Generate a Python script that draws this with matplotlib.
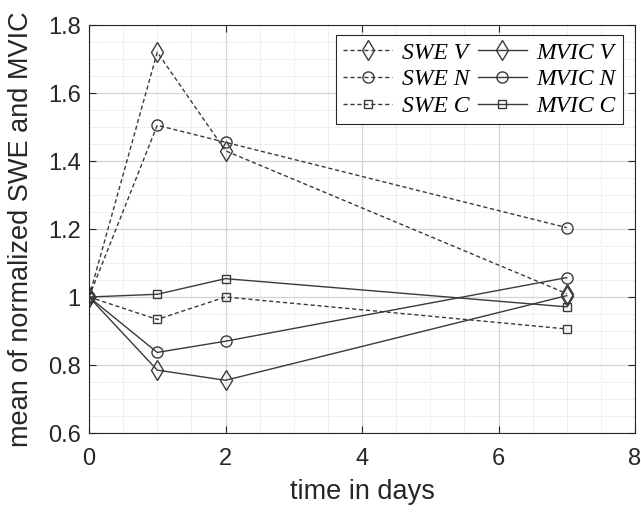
import matplotlib
matplotlib.use("Agg")
import matplotlib.pyplot as plt
from matplotlib.ticker import MultipleLocator, FuncFormatter

days = [0, 1, 2, 7]
swe_v = [1.0, 1.72, 1.43, 1.01]
swe_n = [1.0, 1.505, 1.455, 1.204]
swe_c = [1.0, 0.934, 1.0, 0.906]
mvic_v = [1.0, 0.785, 0.755, 1.004]
mvic_n = [1.0, 0.837, 0.870, 1.057]
mvic_c = [1.0, 1.008, 1.054, 0.971]
labels = ["SWE V", "MVIC V", "SWE N", "MVIC N", "SWE C", "MVIC C"]

plt.rcParams['font.family'] = ['Liberation Sans', 'DejaVu Sans']
fig = plt.figure(figsize=(6.41, 5.12), dpi=100)
ax = fig.add_axes([89/641, 1-433/512, (635-89)/641, (433-25)/512])

col = '#3a3a3a'
dash = (0, (3, 2))
kw = dict(color=col, lw=1.0, mfc='none', mec=col, mew=1.0)
series = [
    (swe_v, dash, 'd', 10),
    (mvic_v, '-', 'd', 10),
    (swe_n, dash, 'o', 8),
    (mvic_n, '-', 'o', 8),
    (swe_c, dash, 's', 5.5),
    (mvic_c, '-', 's', 5.5),
]
handles = []
for (vals, ls, mk, ms), lab in zip(series, labels):
    h, = ax.plot(days, vals, linestyle=ls, marker=mk, ms=ms, label=lab, **kw)
    handles.append(h)

ax.set_xlim(0, 8)
ax.set_ylim(0.6, 1.8)
ax.xaxis.set_major_locator(MultipleLocator(2))
ax.xaxis.set_minor_locator(MultipleLocator(0.5))
ax.yaxis.set_major_locator(MultipleLocator(0.2))
ax.yaxis.set_minor_locator(MultipleLocator(0.05))
ax.yaxis.set_major_formatter(FuncFormatter(lambda v, p: ('%.1f' % v).rstrip('0').rstrip('.')))
ax.grid(True, which='major', color='#d4d4d4', lw=0.9)
ax.grid(True, which='minor', color='#e0e0e0', lw=0.7, linestyle=(0, (1, 1)))
ax.set_axisbelow(True)
ax.tick_params(which='both', direction='in', top=True, right=True, labelsize=17, colors='#262626')
ax.tick_params(which='minor', length=0)
ax.tick_params(which='major', length=5)
ax.tick_params(axis='x', pad=11)
ax.tick_params(axis='y', pad=6)
for s in ax.spines.values():
    s.set_color('#262626')
    s.set_linewidth(0.8)

ax.set_xlabel('time in days', fontsize=19.5, color='#262626')
ax.set_ylabel('mean of normalized SWE and MVIC', fontsize=19.5, color='#262626')
ax.xaxis.label.set_va('center')
ax.yaxis.label.set_va('center')
ax.xaxis.set_label_coords(0.5, (433-492)/408)
ax.yaxis.set_label_coords((21-89)/546, (433-229)/408)

leg = ax.legend(handles=[handles[0], handles[2], handles[4], handles[1], handles[3], handles[5]],
                labels=[labels[0], labels[2], labels[4], labels[1], labels[3], labels[5]],
                ncol=2, loc='upper right', bbox_to_anchor=((623-89)/546, (433-35)/408),
                prop={'family': 'Liberation Serif', 'style': 'italic', 'size': 17},
                frameon=True, fancybox=False, edgecolor='#262626', framealpha=1,
                handlelength=2.1, handletextpad=0.4, columnspacing=0.35, labelspacing=0.22,
                borderpad=0.3, borderaxespad=0)
leg.get_frame().set_linewidth(0.8)

fig.savefig('out.png', dpi=100)
